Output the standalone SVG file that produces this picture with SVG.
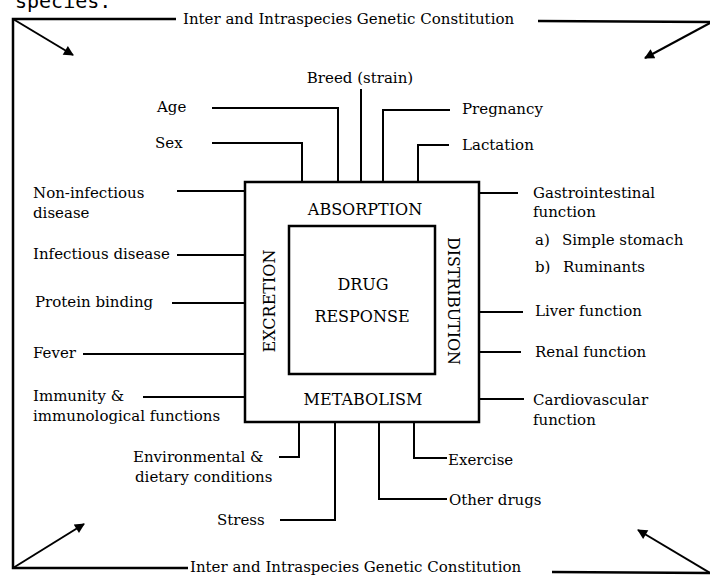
<svg xmlns="http://www.w3.org/2000/svg" width="710" height="577" viewBox="0 0 710 577">
<style>
  .t { font-family: "DejaVu Serif", "Liberation Serif", serif; font-size: 15px; fill: #000; }
  .c { font-family: "DejaVu Serif", "Liberation Serif", serif; font-size: 16px; fill: #000; text-anchor: middle; }
  .ln { fill: none; stroke: #000; stroke-width: 2; stroke-linejoin: miter; }
  .fr { fill: none; stroke: #000; stroke-width: 2.5; }
  .box { fill: none; stroke: #000; stroke-width: 2.5; }
  .mono { font-family: "DejaVu Sans Mono", "Liberation Mono", monospace; font-size: 20px; fill: #000; }
</style>
<defs>
  <marker id="ah" viewBox="0 0 10 10" refX="9" refY="5" markerWidth="12" markerHeight="10" markerUnits="userSpaceOnUse" orient="auto">
    <path d="M0,0 L10,5 L0,10 z" fill="#000"/>
  </marker>
</defs>
<rect width="710" height="577" fill="#fff"/>

<text class="mono" x="15" y="8">species.</text>

<g id="frame">
  <path class="fr" d="M176,19 H13 V568 H188"/>
  <path class="fr" d="M538,21 L710,22"/>
  <path class="fr" d="M552,572 L710,573"/>
  <text class="t" x="183" y="24">Inter and Intraspecies Genetic Constitution</text>
  <text class="t" x="190" y="572">Inter and Intraspecies Genetic Constitution</text>
</g>

<g id="connectors">
  <path class="ln" d="M13,19 L73,55" marker-end="url(#ah)"/>
  <path class="ln" d="M710,23 L645,58" marker-end="url(#ah)"/>
  <path class="ln" d="M13,568 L84,524" marker-end="url(#ah)"/>
  <path class="ln" d="M710,573 L638,530" marker-end="url(#ah)"/>

  <path class="ln" d="M212,108 H338 V182"/>
  <path class="ln" d="M212,143 H302 V182"/>
  <path class="ln" d="M361,89 V182"/>
  <path class="ln" d="M450,110 H383 V182"/>
  <path class="ln" d="M449,145 H418 V182"/>
  <path class="ln" d="M177,191 H245"/>
  <path class="ln" d="M177,255 H245"/>
  <path class="ln" d="M172,303 H245"/>
  <path class="ln" d="M83,354 H245"/>
  <path class="ln" d="M143,397 H245"/>
  <path class="ln" d="M479,193 H518"/>
  <path class="ln" d="M479,312 H523"/>
  <path class="ln" d="M479,352 H521"/>
  <path class="ln" d="M479,399 H524"/>
  <path class="ln" d="M279,457 H299 V422"/>
  <path class="ln" d="M280,520 H335 V422"/>
  <path class="ln" d="M379,422 V499 H447"/>
  <path class="ln" d="M414,422 V458 H447"/>
</g>

<g id="process">
  <rect class="box" x="245" y="182" width="234" height="240"/>
  <text class="c" x="365" y="215">ABSORPTION</text>
  <text class="c" x="363" y="405">METABOLISM</text>
  <text class="c" transform="translate(275,301) rotate(-90)">EXCRETION</text>
  <text class="c" transform="translate(448,301) rotate(90)" textLength="128" lengthAdjust="spacingAndGlyphs">DISTRIBUTION</text>
</g>

<g id="drug-response">
  <rect class="box" x="289" y="226" width="146" height="148"/>
  <text class="c" x="363" y="290">DRUG</text>
  <text class="c" x="362" y="322">RESPONSE</text>
</g>

<g id="breed"><text class="t" x="360" y="83" text-anchor="middle">Breed (strain)</text></g>
<g id="age"><text class="t" x="157" y="112">Age</text></g>
<g id="sex"><text class="t" x="155" y="148">Sex</text></g>
<g id="pregnancy"><text class="t" x="462" y="114">Pregnancy</text></g>
<g id="lactation"><text class="t" x="462" y="150">Lactation</text></g>
<g id="non-infectious"><text class="t" x="33" y="198">Non-infectious</text><text class="t" x="33" y="218">disease</text></g>
<g id="infectious"><text class="t" x="33" y="259">Infectious disease</text></g>
<g id="protein"><text class="t" x="35" y="307">Protein binding</text></g>
<g id="fever"><text class="t" x="33" y="358">Fever</text></g>
<g id="immunity"><text class="t" x="33" y="401">Immunity &amp;</text><text class="t" x="33" y="421">immunological functions</text></g>
<g id="environmental"><text class="t" x="133" y="462">Environmental &amp;</text><text class="t" x="135" y="482">dietary conditions</text></g>
<g id="stress"><text class="t" x="217" y="525">Stress</text></g>
<g id="exercise"><text class="t" x="448" y="465">Exercise</text></g>
<g id="other-drugs"><text class="t" x="449" y="505">Other drugs</text></g>
<g id="gastro">
  <text class="t" x="533" y="198">Gastrointestinal</text>
  <text class="t" x="533" y="217">function</text>
  <text class="t" x="535" y="245">a)<tspan x="562">Simple stomach</tspan></text>
  <text class="t" x="535" y="272">b)<tspan x="563">Ruminants</tspan></text>
</g>
<g id="liver"><text class="t" x="535" y="316">Liver function</text></g>
<g id="renal"><text class="t" x="535" y="357">Renal function</text></g>
<g id="cardio"><text class="t" x="533" y="405">Cardiovascular</text><text class="t" x="533" y="425">function</text></g>
</svg>
